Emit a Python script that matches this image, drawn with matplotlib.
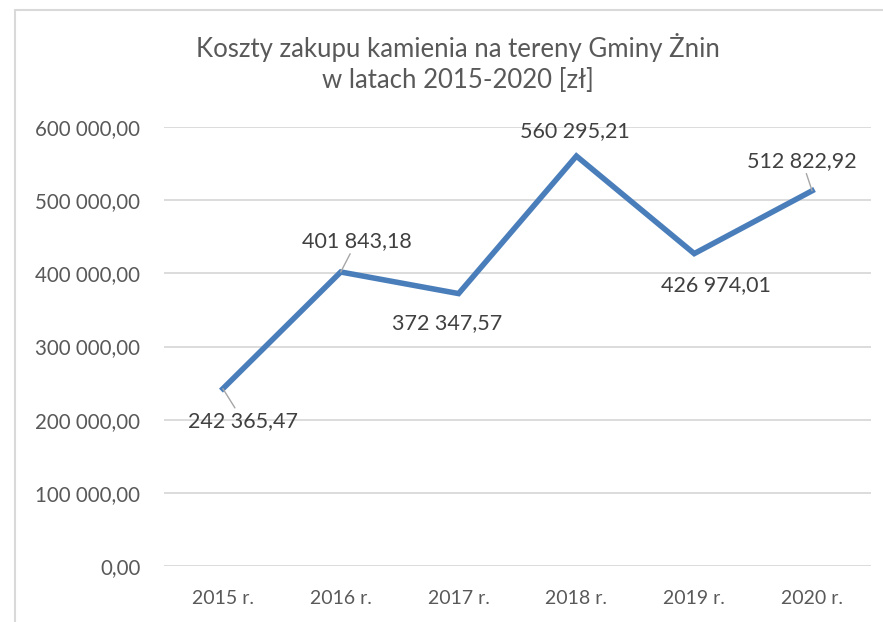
import matplotlib
matplotlib.use("Agg")
import matplotlib.pyplot as plt
from matplotlib.patches import Rectangle
from matplotlib.ticker import FuncFormatter

# Dane
years = ["2015 r.", "2016 r.", "2017 r.", "2018 r.", "2019 r.", "2020 r."]
costs = [242365.47, 401843.18, 372347.57, 560295.21, 426974.01, 512822.92]

# Przesunięcia etykiet (piksele) i czy mają linię odniesienia
label_offsets = [(20, -32), (16, 31), (-11, -30), (-2, 25), (22, -31), (-10, 30)]
leader = [True, True, False, False, False, True]

LINE_COLOR = "#4A7EBB"
TEXT_COLOR = "#595959"
GRID_COLOR = "#D9D9D9"

plt.rcParams["font.family"] = ["Lato", "DejaVu Sans"]


def pl_fmt(v, _pos=None):
    return f"{v:,.2f}".replace(",", " ").replace(".", ",")


fig = plt.figure(figsize=(8.83, 6.22), dpi=100)
ax = fig.add_axes([164 / 883, 1 - 566 / 622, 707 / 883, 439 / 622])

x = [i + 0.5 for i in range(len(years))]
ax.plot(x, costs, color=LINE_COLOR, lw=4.0, solid_joinstyle="miter", zorder=3)

for xi, val, off, ld in zip(x, costs, label_offsets, leader):
    props = None
    if ld:
        props = dict(arrowstyle="-", color="#A6A6A6", lw=1.0, shrinkA=0, shrinkB=0)
    ax.annotate(pl_fmt(val), xy=(xi, val), xytext=off, textcoords="offset pixels",
                ha="center", va="center", fontsize=15.5, color="#404040",
                arrowprops=props, zorder=4)

ax.set_xlim(0, 6)
ax.set_ylim(0, 600000)
ax.set_yticks(range(0, 600001, 100000))
ax.yaxis.set_major_formatter(FuncFormatter(pl_fmt))
ax.set_xticks(x)
ax.set_xticklabels(years)

ax.grid(axis="y", color=GRID_COLOR, lw=1.3)
ax.set_axisbelow(True)
for s in ax.spines.values():
    s.set_visible(False)
ax.tick_params(axis="y", length=0, pad=17, labelsize=14.8, labelcolor=TEXT_COLOR)
ax.tick_params(axis="x", length=0, pad=17, labelsize=14, labelcolor=TEXT_COLOR)

fig.text(458 / 883, 1 - 63 / 622, "Koszty zakupu kamienia na tereny Gminy Żnin\nw latach 2015-2020 [zł]",
         ha="center", va="center", fontsize=18.5, color=TEXT_COLOR, linespacing=1.25)

# ramka obszaru wykresu
fig.patches.append(Rectangle((15 / 883, -0.1), 1.1, 1 - 10 / 622 + 0.1,
                             transform=fig.transFigure, fill=False,
                             edgecolor=GRID_COLOR, lw=1.5))

fig.savefig("out.png", dpi=100)
